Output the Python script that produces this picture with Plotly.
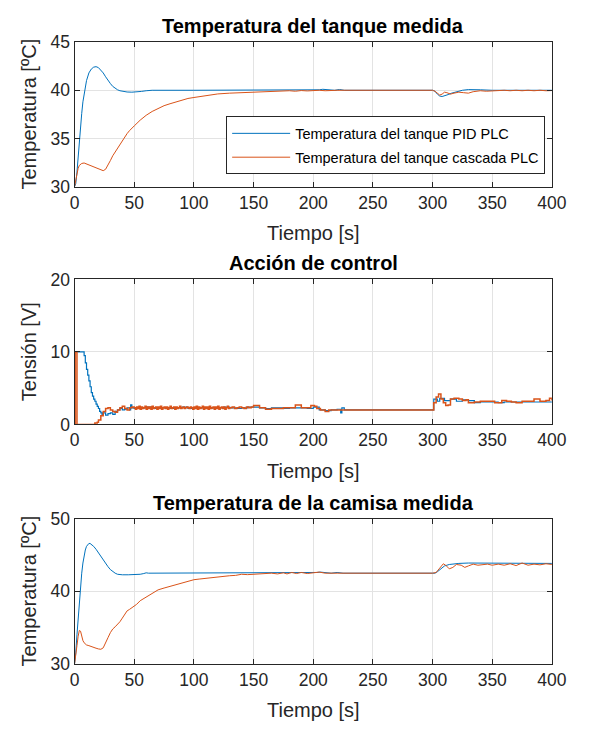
import plotly.graph_objects as go

# ---------------- Data ----------------
# Plot 1: Temperatura del tanque medida
t_tank_pid = [0,1,2,3,4,5,6,7,8,10,12,14,16,18,20,22,24,26,28,30,32,34,36,38,40,44,48,52,56,60,65,100,150,200,205,208,212,218,222,226,300,302,304,306,308,310,313,316,320,325,330,335,340,350,360,370,380,390,400]
y_tank_pid = [30,30.3,31.5,33.2,34.8,36.3,37.6,38.8,39.7,41.0,41.8,42.2,42.4,42.45,42.35,42.1,41.8,41.4,41.0,40.7,40.4,40.2,40.05,39.95,39.88,39.82,39.8,39.82,39.88,39.95,40.0,40.0,40.0,40.0,40.05,40.1,40.05,40.0,40.08,40.0,40.0,39.9,39.6,39.4,39.35,39.4,39.55,39.7,39.85,40.0,40.07,40.08,40.05,40.0,40.0,40.02,40.0,40.0,40.0]

t_tank_cas = [0,1,2,3,4,6,8,10,12,14,16,18,20,22,24,26,28,30,32,34,36,38,40,42,44,46,48,50,55,60,65,70,75,80,85,90,95,100,105,110,115,120,130,140,150,160,170,180,185,190,195,200,205,210,220,300,302,304,306,308,310,312,315,318,322,326,330,334,340,345,350,355,360,365,370,375,380,385,390,395,400]
y_tank_cas = [30,30.8,31.4,31.9,32.2,32.4,32.45,32.35,32.25,32.15,32.05,31.95,31.8,31.7,31.65,31.8,32.2,32.7,33.2,33.6,34.0,34.3,34.7,35.1,35.5,35.8,36.1,36.3,36.9,37.4,37.8,38.1,38.4,38.6,38.8,39.0,39.15,39.25,39.35,39.45,39.55,39.62,39.7,39.76,39.82,39.87,39.92,39.95,39.9,39.97,39.93,39.98,40.0,39.95,40.0,40.0,39.9,39.7,39.5,39.6,39.8,39.75,39.6,39.7,39.8,39.75,39.7,39.85,39.95,39.9,39.95,39.98,40.0,39.95,40.0,39.95,40.0,39.95,40.0,39.95,39.97]

# Plot 2: Acción de control
t_u_pid = [0,7,8,9,10,11,12,13,14,15,16,17,18,19,20,21,22,23,24,26,28,30,32,34,36,38,40,42,44,46,47,48,50,55,60,65,70,75,80,85,90,95,100,105,110,115,120,125,130,135,140,145,150,155,160,165,170,175,180,185,190,195,200,205,210,215,220,223,224,226,300,301,304,306,310,315,320,325,330,335,340,345,350,355,360,365,370,375,380,385,390,395,400]
y_u_pid = [10,10,9.5,8.5,7.6,6.8,6.0,5.2,4.4,3.9,3.5,3.2,2.8,2.5,2.2,1.8,1.6,1.4,1.6,1.3,1.5,1.6,1.4,1.8,2.0,2.2,2.0,2.1,2.3,2.0,2.7,2.3,2.2,2.3,2.4,2.2,2.3,2.3,2.2,2.3,2.4,2.2,2.3,2.3,2.2,2.3,2.3,2.4,2.3,2.2,2.3,2.4,2.4,2.3,2.2,2.3,2.3,2.2,2.3,2.3,2.3,2.2,2.4,2.0,1.9,2.0,2.1,1.6,2.3,2.0,2.0,3.5,3.2,3.6,3.3,3.5,3.2,3.4,3.3,3.0,3.1,3.1,3.1,3.0,3.1,3.1,3.1,3.1,3.1,3.1,3.1,3.1,3.1]

t_u_cas = [0,0.5,1.5,2,15,17,19,20,22,24,26,28,30,32,34,36,38,40,42,44,46,48,50,51,52,53,54,55,56,57,58,59,60,61,62,63,64,65,66,67,68,69,70,71,72,73,74,75,76,77,78,79,80,81,82,83,84,85,86,87,88,89,90,91,92,93,94,95,96,97,98,99,100,101,102,103,104,105,106,107,108,109,110,111,112,113,114,115,116,117,118,119,120,121,122,123,124,125,126,127,128,129,130,132,134,136,138,140,142,144,146,148,150,155,160,165,170,175,180,185,188,190,195,198,201,203,206,210,213,220,300,301,303,305,307,309,311,313,315,318,322,325,328,330,335,340,345,350,352,355,358,362,366,370,375,380,385,388,390,395,398,400]
y_u_cas = [0,10,10,0,0,0.2,0.3,0.6,1.2,1.8,2.2,2.3,2.0,1.8,1.7,2.0,2.3,2.5,2.2,2.0,2.3,2.4,2.3,2.1,2.4,2.2,2.5,2.1,2.4,2.2,2.3,2.5,2.1,2.4,2.2,2.4,2.1,2.5,2.2,2.3,2.4,2.1,2.4,2.2,2.5,2.1,2.3,2.4,2.2,2.4,2.1,2.3,2.5,2.2,2.3,2.4,2.1,2.4,2.2,2.3,2.5,2.2,2.3,2.4,2.2,2.3,2.4,2.3,2.2,2.4,2.3,2.1,2.4,2.2,2.5,2.1,2.4,2.2,2.3,2.5,2.1,2.4,2.2,2.4,2.1,2.5,2.2,2.3,2.4,2.1,2.4,2.2,2.5,2.1,2.3,2.4,2.2,2.4,2.1,2.3,2.5,2.2,2.3,2.4,2.2,2.3,2.4,2.3,2.2,2.4,2.3,2.4,2.6,2.3,2.1,2.2,2.2,2.3,2.3,2.7,2.7,2.3,2.3,2.6,2.5,2.2,2.0,1.8,2.0,2.0,2.0,3.0,3.8,4.2,3.5,3.0,2.6,2.7,3.5,3.6,3.5,3.3,3.4,3.0,3.1,3.2,3.2,3.2,3.0,3.0,3.3,3.2,3.1,3.0,3.2,3.2,3.5,3.5,3.2,3.3,3.6,3.3]

# Plot 3: Temperatura de la camisa medida
t_jac_pid = [0,1,2,3,4,5,6,7,8,9,10,11,12,13,14,16,18,20,22,24,26,28,30,32,34,36,38,40,45,50,55,58,60,62,65,100,200,203,206,210,215,220,225,300,302,304,306,308,310,314,318,322,330,340,350,400]
y_jac_pid = [30,31.5,34,36.5,38.8,40.8,42.5,43.9,44.9,45.7,46.2,46.5,46.6,46.6,46.5,46.2,45.8,45.3,44.8,44.3,43.8,43.4,43.0,42.7,42.5,42.35,42.3,42.28,42.28,42.3,42.35,42.45,42.55,42.5,42.5,42.5,42.5,42.6,42.65,42.55,42.5,42.6,42.5,42.5,42.5,42.7,43.0,43.3,43.5,43.7,43.8,43.85,43.9,43.9,43.85,43.85]

t_jac_cas = [0,1,2,3,4,5,6,7,8,10,12,14,16,18,20,22,24,26,28,30,32,34,36,38,40,42,44,46,48,50,52,55,58,60,63,66,68,70,75,80,85,90,95,100,105,110,115,120,125,130,135,140,145,150,155,160,165,170,175,178,182,186,190,195,200,205,210,215,220,300,303,306,309,311,314,317,320,324,327,330,334,338,342,346,350,355,360,365,370,375,380,385,390,395,400]
y_jac_cas = [30,31.0,32.5,33.8,34.6,34.5,33.8,33.2,32.9,32.6,32.5,32.35,32.25,32.15,32.05,32.0,32.2,32.8,33.6,34.3,34.8,35.1,35.4,35.8,36.3,36.9,37.3,37.5,37.7,37.9,38.2,38.7,39.0,39.15,39.4,39.7,40.0,40.2,40.45,40.7,40.95,41.2,41.4,41.6,41.7,41.8,41.95,42.05,42.1,42.15,42.2,42.35,42.3,42.35,42.4,42.4,42.5,42.4,42.55,42.4,42.6,42.45,42.6,42.45,42.5,42.65,42.5,42.55,42.5,42.5,42.6,43.2,43.8,43.6,43.1,43.3,43.7,43.6,43.3,43.5,43.75,43.6,43.7,43.75,43.6,43.75,43.6,43.8,43.55,43.9,43.6,43.75,43.65,43.8,43.7]

x_ticks = [0, 50, 100, 150, 200, 250, 300, 350, 400]
y1_ticks = [30, 35, 40, 45]
y2_ticks = [0, 10, 20]
y3_ticks = [30, 40, 50]

titles = ["Temperatura del tanque medida", "Acción de control", "Temperatura de la camisa medida"]
ylabels = ["Temperatura [ºC]", "Tensión [V]", "Temperatura [ºC]"]
xlabel = "Tiempo [s]"
legend_names = ["Temperatura del tanque PID PLC", "Temperatura del tanque cascada PLC"]

# ---------------- Figure ----------------
W, H = 593, 738
BLUE = "#0072BD"
ORANGE = "#D95319"
AX = "#262626"
FONT = "Liberation Sans, Arial, sans-serif"

fig = go.Figure()

fig.add_trace(go.Scatter(x=t_tank_pid, y=y_tank_pid, mode="lines", line=dict(color=BLUE, width=1),
                         name=legend_names[0], legendgroup="a", xaxis="x", yaxis="y"))
fig.add_trace(go.Scatter(x=t_tank_cas, y=y_tank_cas, mode="lines", line=dict(color=ORANGE, width=1),
                         name=legend_names[1], legendgroup="b", xaxis="x", yaxis="y"))
fig.add_trace(go.Scatter(x=t_u_pid, y=y_u_pid, mode="lines", line=dict(color=BLUE, width=1.2, shape="hv"),
                         showlegend=False, xaxis="x2", yaxis="y2"))
fig.add_trace(go.Scatter(x=t_u_cas, y=y_u_cas, mode="lines", line=dict(color=ORANGE, width=1.5, shape="hv"),
                         showlegend=False, xaxis="x2", yaxis="y2"))
fig.add_trace(go.Scatter(x=t_jac_pid, y=y_jac_pid, mode="lines", line=dict(color=BLUE, width=1),
                         showlegend=False, xaxis="x3", yaxis="y3"))
fig.add_trace(go.Scatter(x=t_jac_cas, y=y_jac_cas, mode="lines", line=dict(color=ORANGE, width=1),
                         showlegend=False, xaxis="x3", yaxis="y3"))

xl, xr = 72, 566
panels = [(33, 181.5), (277, 426), (523, 672)]
ydom = [[1 - b / H, 1 - t / H] for (t, b) in panels]
xdom = [xl / W, xr / W]

def xax(anchor):
    return dict(domain=xdom, range=[0, 400], tickvals=x_ticks, anchor=anchor,
                showline=True, linecolor=AX, linewidth=1, mirror="ticks",
                ticks="inside", ticklen=5, tickcolor=AX,
                showgrid=True, gridcolor="#e3e3e3", gridwidth=1, zeroline=False,
                tickfont=dict(family=FONT, size=17.5, color=AX))

def yax(dom, rng, tv, anchor):
    return dict(domain=dom, range=rng, tickvals=tv, anchor=anchor,
                showline=True, linecolor=AX, linewidth=1, mirror="ticks",
                ticks="inside", ticklen=5, tickcolor=AX,
                showgrid=True, gridcolor="#e3e3e3", gridwidth=1, zeroline=False,
                tickfont=dict(family=FONT, size=17.5, color=AX))

annotations = []
for i, (t, b) in enumerate(panels):
    cy = (t + b) / 2
    annotations.append(dict(text="<b>" + titles[i] + "</b>", x=(xl + xr) / 2 / W, y=1 - (t - 16.5) / H,
                            xref="paper", yref="paper", showarrow=False, xanchor="center", yanchor="middle",
                            font=dict(family=FONT, size=20, color="#000000")))
    annotations.append(dict(text=xlabel, x=(xl + xr) / 2 / W, y=1 - (b + 47.5) / H,
                            xref="paper", yref="paper", showarrow=False, xanchor="center", yanchor="middle",
                            font=dict(family=FONT, size=20, color=AX)))
    annotations.append(dict(text=ylabels[i], x=25 / W, y=1 - cy / H, textangle=-90,
                            xref="paper", yref="paper", showarrow=False, xanchor="center", yanchor="middle",
                            font=dict(family=FONT, size=20, color=AX)))

fig.update_layout(
    width=W, height=H,
    margin=dict(l=0, r=0, t=0, b=0),
    paper_bgcolor="white", plot_bgcolor="white",
    xaxis=xax("y"), yaxis=yax(ydom[0], [30, 45], y1_ticks, "x"),
    xaxis2=xax("y2"), yaxis2=yax(ydom[1], [0, 20], y2_ticks, "x2"),
    xaxis3=xax("y3"), yaxis3=yax(ydom[2], [30, 50], y3_ticks, "x3"),
    annotations=annotations,
    showlegend=True,
    legend=dict(x=559 / W, y=1 - 169 / H, xanchor="right", yanchor="bottom",
                bgcolor="white", bordercolor=AX, borderwidth=1,
                font=dict(family=FONT, size=14.5, color="#000000"),
                itemwidth=58, traceorder="grouped", tracegroupgap=2),
)

fig.write_html("out.html", post_script="document.body.style.margin='0';document.body.style.overflow='hidden';")
